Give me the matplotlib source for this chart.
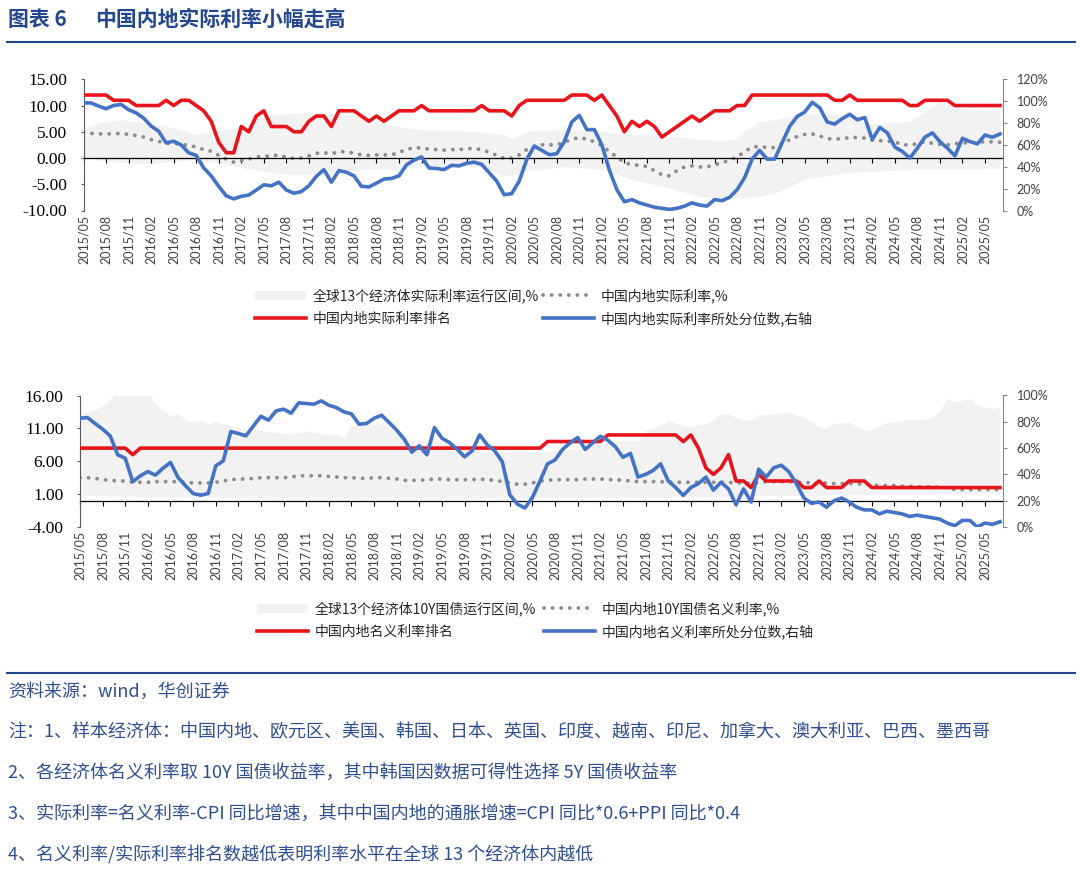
import numpy as np
import pandas as pd
import matplotlib
matplotlib.use('Agg')
import matplotlib.pyplot as plt
from matplotlib.lines import Line2D
from matplotlib.patches import Patch

plt.rcParams['font.family'] = ['Noto Sans CJK SC', 'DejaVu Sans']

# monthly x axis, 2015/05 .. 2025/07
months = pd.period_range('2015-05', periods=123, freq='M')
x = np.arange(len(months))
tick_pos = x[::3]
tick_labels = [m.strftime('%Y/%m') for m in months[::3]]

# ---------------- top panel: real rates ----------------
real_rank = [12, 12, 12, 12, 11, 11, 11, 10, 10, 10,
             10, 11, 10, 11, 11, 10, 9, 7, 3, 1,
             1, 6, 5, 8, 9, 6, 6, 6, 5, 5,
             7, 8, 8, 6, 9, 9, 9, 8, 7, 8,
             7, 8, 9, 9, 9, 10, 9, 9, 9, 9,
             9, 9, 9, 10, 9, 9, 9, 8, 10, 11,
             11, 11, 11, 11, 11, 12, 12, 12, 11, 12,
             10, 8, 5, 7, 6, 7, 6, 4, 5, 6,
             7, 8, 7, 8, 9, 9, 9, 10, 10, 12,
             12, 12, 12, 12, 12, 12, 12, 12, 12, 12,
             11, 11, 12, 11, 11, 11, 11, 11, 11, 11,
             10, 10, 11, 11, 11, 11, 10, 10, 10, 10,
             10, 10, 10]

real_pct = [98.4, 98.4, 95.5, 93.1, 96, 97, 92.2, 89.3, 84.5, 77.3,
            72.5, 61.9, 63.4, 60, 52.8, 50.4, 38.9, 31.7, 22.1, 13.4,
            10.6, 13, 14.1, 18.7, 23.5, 22.6, 25.9, 18.7, 15.8, 17.3,
            22.6, 31.2, 37.4, 25.9, 36.5, 35, 31.7, 22.1, 21.6, 25,
            28.8, 29.3, 31.7, 41.8, 46.1, 49, 38.9, 38.4, 37.4, 41.3,
            40.8, 43.2, 44.2, 42.2, 34.6, 26.9, 14.4, 15.4, 26.9, 46.6,
            59, 55, 51, 52, 63, 81, 87, 74, 74, 60,
            37, 19, 8, 10, 7, 5, 3, 2, 1, 2,
            4, 7, 5, 4, 10, 9, 12, 19, 30, 47,
            55, 47, 47, 62, 77, 86, 90, 99, 94, 81,
            79, 84, 88, 83, 85, 65, 76, 71, 58, 54,
            48, 57, 67, 71, 63, 57, 50, 66, 63, 61,
            69, 67, 70]

real_rate = [4.9, 4.7, 4.6, 4.6, 4.6, 4.7, 4.5, 4.3, 4.0, 3.5,
             3.2, 2.8, 2.8, 2.6, 2.4, 2.1, 1.6, 1.3, 0.5, -0.2,
             -0.8, -0.5, -0.2, 0.2, 0.3, 0.4, 0.6, 0.1, -0.1, 0.0,
             0.4, 0.9, 1.0, 0.8, 1.2, 1.2, 0.9, 0.6, 0.5, 0.6,
             0.6, 0.6, 1.1, 1.6, 2.0, 1.9, 1.7, 1.6, 1.5, 1.6,
             1.6, 1.8, 1.8, 1.6, 1.1, 0.5, -0.1, 0.0, 0.6, 1.6,
             2.1, 2.5, 2.5, 2.5, 3.0, 3.6, 3.9, 3.6, 3.1, 2.4,
             1.2, 0.2, -0.9, -1.25, -1.4, -1.6, -2.4, -3.2, -3.4, -2.4,
             -1.7, -1.5, -1.7, -1.7, -1.3, -0.9, -0.4, 0.2, 1.2, 2.1,
             2.2, 2.0, 2.0, 2.7, 3.5, 4.1, 4.5, 4.6, 4.2, 3.7,
             3.6, 3.7, 3.9, 3.9, 3.8, 3.4, 3.3, 3.2, 3.1, 2.5,
             2.5, 2.7, 3.1, 2.8, 2.6, 2.5, 2.7, 2.9, 2.9, 3.0,
             3.1, 3.1, 3.0]

# range of the 13 economies, read at selected months
real_band_idx = [0, 2, 5, 8, 11, 15, 17, 19, 21, 23, 25, 28, 32, 37, 41, 45, 47, 51, 53, 56,
                 57, 59, 61, 64, 69, 73, 78, 82, 85, 87, 88, 90, 92, 96, 101, 105, 110, 114, 115, 118,
                 122]
real_band_hi = [5.7, 6.7, 7.3, 6.8, 6.1, 4.5, 5.1, 5.4, 5.7, 7.5, 8.3, 8.5, 8.6, 8.0, 6.1, 5.4, 5.4, 5.1, 4.9, 4.5,
                3.5, 5.1, 5.3, 5.4, 5.1, 4.5, 4.2, 3.6, 3.3, 3.6, 5.1, 7.0, 7.3, 8.6, 8.2, 6.4, 7.0, 10.8, 10.2, 9.2,
                9.0]
real_band_lo = [0.2, -0.4, -0.8, -1.1, -0.8, -0.3, -0.8, -1.3, -1.8, -2.3, -2.8, -3.2, -3.0, -2.2, -2.2, -1.6, -1.6, -1.6, -1.6, -3.5,
                -3.3, -2.4, -2.2, -1.6, -2.2, -4.1, -5.7, -7.3, -7.5, -7.6, -7.5, -7.3, -6.7, -4.1, -2.9, -2.5, -2.2, -2.2, -2.2, -2.2,
                -1.9]

# ---------------- bottom panel: nominal 10Y ----------------
nom_rank = [8, 8, 8, 8, 8, 8, 8, 7, 8, 8,
            8, 8, 8, 8, 8, 8, 8, 8, 8, 8,
            8, 8, 8, 8, 8, 8, 8, 8, 8, 8,
            8, 8, 8, 8, 8, 8, 8, 8, 8, 8,
            8, 8, 8, 8, 8, 8, 8, 8, 8, 8,
            8, 8, 8, 8, 8, 8, 8, 8, 8, 8,
            8, 8, 9, 9, 9, 9, 9, 9, 9, 9,
            10, 10, 10, 10, 10, 10, 10, 10, 10, 10,
            9, 10, 8, 5, 4, 5, 7, 3, 3, 2,
            4, 3, 3, 3, 3, 3, 2, 2, 3, 2,
            2, 2, 3, 3, 3, 2, 2, 2, 2, 2,
            2, 2, 2, 2, 2, 2, 2, 2, 2, 2,
            2, 2, 2]

nom_pct = [82.7, 83.2, 78.7, 74.4, 69.3, 54.9, 52.3, 34.4, 38.9, 42.2,
           39.4, 44.7, 49.1, 37.7, 31.3, 25.5, 24.2, 25.5, 46.5, 50.3,
           72.6, 71.1, 69.3, 76.9, 84.2, 81.2, 88.3, 89.6, 86.5, 94.4,
           93.9, 93.4, 95.9, 92.6, 90.8, 87.5, 86, 78.2, 78.7, 82.7,
           85, 79.4, 73.6, 66.8, 56.9, 61.7, 54.9, 75.6, 67.5, 64.2,
           59.2, 53.4, 57.9, 70.1, 62.5, 57.9, 49.6, 24.5, 17.4, 14.4,
           22.5, 35, 48, 51, 59, 64, 68, 59, 64, 69,
           66, 61, 53, 56, 38, 40, 43, 48, 35, 30,
           24, 30, 33, 38, 28, 34, 29, 17, 29, 19,
           44, 38, 45, 47, 42, 33, 22, 18, 19, 15,
           20, 22, 19, 15, 13, 13, 10, 12, 11, 10,
           8, 9, 8, 7, 6, 3, 1, 5, 5, 0,
           3, 2, 4]

nom_rate = [3.5, 3.5, 3.4, 3.2, 3.1, 3.0, 3.0, 2.8, 2.8, 2.8,
            2.9, 2.9, 2.9, 2.9, 2.8, 2.7, 2.7, 2.7, 2.8, 3.0,
            3.2, 3.3, 3.3, 3.4, 3.5, 3.5, 3.5, 3.5, 3.6, 3.8,
            3.8, 3.8, 3.8, 3.7, 3.6, 3.5, 3.5, 3.4, 3.4, 3.5,
            3.5, 3.4, 3.3, 3.1, 3.1, 3.1, 3.2, 3.3, 3.3, 3.2,
            3.2, 3.2, 3.2, 3.3, 3.2, 3.1, 2.9, 2.7, 2.5, 2.5,
            2.7, 3.0, 3.1, 3.2, 3.2, 3.2, 3.2, 3.3, 3.3, 3.3,
            3.2, 3.2, 3.1, 3.0, 2.9, 2.9, 2.9, 2.9, 2.8, 2.8,
            2.8, 2.8, 2.8, 2.8, 2.8, 2.8, 2.8, 2.7, 2.7, 2.6,
            2.8, 2.9, 2.9, 2.9, 2.9, 2.8, 2.8, 2.7, 2.7, 2.7,
            2.6, 2.6, 2.6, 2.6, 2.5, 2.4, 2.3, 2.3, 2.3, 2.2,
            2.2, 2.1, 2.1, 2.1, 2.0, 2.0, 1.7, 1.7, 1.7, 1.7,
            1.7, 1.7, 1.7]

nom_band_idx = [0, 2, 3, 4, 5, 9, 10, 11, 12, 13, 14, 15, 16, 17, 18, 20, 22, 24, 26, 28,
                30, 32, 34, 35, 36, 37, 38, 40, 41, 42, 44, 46, 48, 50, 52, 54, 56, 58, 60, 61,
                64, 67, 70, 72, 74, 75, 77, 78, 79, 81, 82, 83, 84, 85, 86, 87, 88, 89, 90, 92,
                94, 96, 98, 99, 100, 102, 104, 105, 107, 110, 111, 113, 114, 115, 116, 118, 119, 121, 122]
nom_band_hi = [13.2, 13.9, 14.4, 15.4, 16.5, 16.5, 14.7, 13.7, 12.9, 13.3, 12.2, 12.0, 12.2, 11.7, 12.0, 11.4, 10.9, 10.7, 10.4, 10.1,
               10.6, 10.2, 10.0, 9.6, 11.4, 11.6, 11.7, 11.7, 11.1, 10.2, 9.2, 9.2, 9.0, 8.2, 7.6, 7.3, 7.3, 7.5, 7.4, 7.3,
               7.6, 8.1, 8.9, 9.2, 9.1, 10.7, 11.4, 12.4, 11.7, 11.2, 11.6, 11.7, 12.4, 13.2, 13.2, 12.7, 12.3, 12.2, 13.1, 13.2,
               13.5, 12.7, 11.2, 11.1, 11.8, 11.9, 10.7, 10.9, 11.9, 12.4, 12.3, 12.6, 13.7, 15.5, 15.1, 15.5, 14.5, 14.0, 14.2]
nom_band_lo = [0.8, 0.8, 0.8, 0.7, 0.7, 0.6, 0.6, 0.6, 0.6, 0.6, 0.6, 0.5, 0.5, 0.5, 0.5, 0.5, 0.4, 0.4, 0.3, 0.3,
               0.3, 0.3, 0.3, 0.3, 0.3, 0.3, 0.3, 0.3, 0.3, 0.3, 0.3, 0.3, 0.3, 0.4, 0.4, 0.4, 0.4, 0.4, 0.4, 0.5,
               0.5, 0.5, 0.5, 0.5, 0.5, 0.5, 0.5, 0.5, 0.6, 0.6, 0.6, 0.6, 0.7, 0.7, 0.7, 0.7, 0.7, 0.7, 0.8, 0.8,
               0.8, 0.8, 0.8, 0.9, 0.9, 0.9, 0.9, 1.0, 1.0, 1.0, 1.0, 1.0, 1.1, 1.1, 1.1, 1.1, 1.2, 1.2, 1.2]

RED = '#e8141c'
BLUE = '#4472c4'
DOT = '#8c8c8c'
BAND = '#f2f2f2'
NAVY = '#23468c'
DOTSTYLE = (0, (0.01, 2.2))

W, H = 1080, 876
fig = plt.figure(figsize=(W / 100, H / 100), dpi=100)


def px_rect(left, top, right, bottom):
    return [left / W, 1 - bottom / H, (right - left) / W, (bottom - top) / H]


def panel(rect, xmax, ylim, yticks, y2lim, y2ticks, band_idx, band_lo, band_hi, rate, rank, pct):
    ax = fig.add_axes(rect)
    ax2 = ax.twinx()
    ax.fill_between(band_idx, band_lo, band_hi, color=BAND, lw=0, zorder=1)
    ax.plot(x, rate, color=DOT, lw=2.8, ls=DOTSTYLE, dash_capstyle='round', zorder=2)
    ax.plot(x, rank, color=RED, lw=2.6, zorder=3, solid_joinstyle='round')
    ax2.plot(x, pct, color=BLUE, lw=2.6, solid_joinstyle='round')

    ax.set_xlim(0, xmax)
    ax.set_ylim(*ylim)
    ax2.set_ylim(*y2lim)

    # zero line carries the tick marks, the labels sit below the plot
    ax.spines['bottom'].set_position(('data', 0))
    ax.spines['bottom'].set_color('black')
    ax.spines['bottom'].set_linewidth(0.9)
    ax.set_xticks(tick_pos)
    ax.tick_params(axis='x', direction='out', length=3.5, width=0.8, labelbottom=False)
    sec = ax.secondary_xaxis('bottom')
    sec.set_xticks(tick_pos, labels=tick_labels, fontfamily='Lato', fontsize=9, color='#404040')
    sec.tick_params(length=0, pad=3, labelrotation=90)
    sec.spines['bottom'].set_visible(False)

    ax.spines['top'].set_visible(False)
    ax.spines['right'].set_visible(False)
    ax.spines['left'].set_color('#595959')
    ax.set_yticks(yticks, labels=['%.2f' % v for v in yticks],
                  fontfamily='Liberation Serif', fontsize=12.5)
    ax.tick_params(axis='y', length=2.5, width=0.8, color='#595959', pad=9.5)

    for s in ['top', 'bottom', 'left']:
        ax2.spines[s].set_visible(False)
    ax2.spines['right'].set_color('#868686')
    ax2.set_yticks(y2ticks, labels=['%d%%' % v for v in y2ticks],
                   fontfamily='Lato', fontsize=9, color='#404040')
    ax2.tick_params(axis='y', length=3.2, width=0.8, color='#868686', pad=6.5)
    return ax, ax2


panel(px_rect(83.5, 79.3, 1003, 210.5), 122.4, (-10, 15), [-10, -5, 0, 5, 10, 15],
      (0, 120), [0, 20, 40, 60, 80, 100, 120],
      real_band_idx, real_band_lo, real_band_hi, real_rate, real_rank, real_pct)

panel(px_rect(80, 395.5, 1003, 527), 122.4, (-4, 16), [-4, 1, 6, 11, 16],
      (0, 100), [0, 20, 40, 60, 80, 100],
      nom_band_idx, nom_band_lo, nom_band_hi, nom_rate, nom_rank, nom_pct)

# legends, each column placed on its own
band_h = Patch(facecolor=BAND, edgecolor='none')
dot_h = Line2D([], [], color=DOT, lw=2.8, ls=DOTSTYLE, dash_capstyle='round')
red_h = Line2D([], [], color=RED, lw=2.6)
blue_h = Line2D([], [], color=BLUE, lw=2.6)


def legend_col(handles, labels, xpx, ypx):
    fig.legend(handles, labels, loc='center left', bbox_to_anchor=(xpx / W, 1 - ypx / H),
               frameon=False, fontsize=10, labelcolor='#262626',
               handlelength=3.7, handletextpad=0.45, labelspacing=0.6,
               borderpad=0, borderaxespad=0)


legend_col([band_h, red_h], ['全球13个经济体实际利率运行区间,%', '中国内地实际利率排名'], 255, 307)
legend_col([dot_h, blue_h], ['中国内地实际利率,%', '中国内地实际利率所处分位数,右轴'], 543, 307)
legend_col([band_h, red_h], ['全球13个经济体10Y国债运行区间,%', '中国内地名义利率排名'], 257, 620)
legend_col([dot_h, blue_h], ['中国内地10Y国债名义利率,%', '中国内地名义利率所处分位数,右轴'], 544, 620)

# title and rules
fig.text(8 / W, 1 - 19 / H, '图表 6', fontsize=15, fontweight='bold', color=NAVY, va='center')
fig.text(95 / W, 1 - 19 / H, '中国内地实际利率小幅走高', fontsize=15, fontweight='bold',
         color=NAVY, va='center')
fig.add_artist(Line2D([7 / W, 1075 / W], [1 - 41.5 / H] * 2, color=NAVY, lw=1.5))
fig.add_artist(Line2D([7 / W, 1075 / W], [1 - 673 / H] * 2, color=NAVY, lw=1.5))

notes = ['资料来源：wind，华创证券',
         '注：1、样本经济体：中国内地、欧元区、美国、韩国、日本、英国、印度、越南、印尼、加拿大、澳大利亚、巴西、墨西哥',
         '2、各经济体名义利率取 10Y 国债收益率，其中韩国因数据可得性选择 5Y 国债收益率',
         '3、实际利率=名义利率-CPI 同比增速，其中中国内地的通胀增速=CPI 同比*0.6+PPI 同比*0.4',
         '4、名义利率/实际利率排名数越低表明利率水平在全球 13 个经济体内越低']
for txt, ypx in zip(notes, [692, 732, 773, 814, 855]):
    fig.text(8 / W, 1 - ypx / H, txt, fontsize=13, color='#2f4f8f', va='center')

fig.savefig('out.png', dpi=100, facecolor='white')
